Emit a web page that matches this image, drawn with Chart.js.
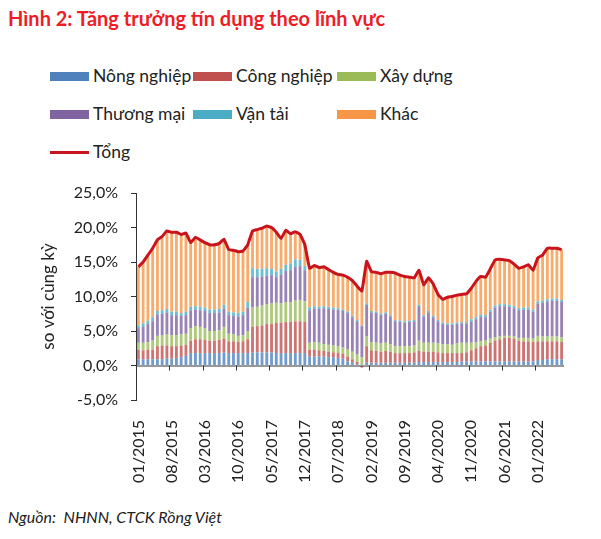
<!DOCTYPE html>
<html>
<head>
<meta charset="utf-8">
<script src="https://cdn.jsdelivr.net/npm/chart.js@4.4.1/dist/chart.umd.min.js"></script>
<style>
  body { margin: 0; background: #fff; width: 601px; height: 539px; position: relative; overflow: hidden; font-family: Lato, "Noto Sans", sans-serif; color: #222; }
  #title { position: absolute; left: 8px; top: 6px; font-size: 20px; font-weight: bold; color: #ee1c25; white-space: nowrap; }
  #legend { position: absolute; left: 0; top: 0; }
  .item { position: absolute; font-size: 17.5px; white-space: nowrap; line-height: 20px; }
  .sw { position: absolute; width: 39px; }
  #chartBox { position: absolute; left: 0; top: 168px; width: 601px; height: 322px; }
  #source { position: absolute; left: 8px; top: 507px; font-size: 16px; font-style: italic; white-space: nowrap; }
</style>
</head>
<body>
<div id="title">Hình 2: Tăng trưởng tín dụng theo lĩnh vực</div>
<div id="legend"></div>
<div id="chartBox"><canvas id="creditChart"></canvas></div>
<div id="source">Nguồn:&nbsp; NHNN, CTCK Rồng Việt</div>
<script>
// months 01/2015 .. 06/2022
const months = [];
for (let y = 2015; y <= 2022; y++) {
  for (let m = 1; m <= 12; m++) {
    if (y === 2022 && m > 6) break;
    months.push(String(m).padStart(2, "0") + "/" + y);
  }
}

const yTicks = [-5, 0, 5, 10, 15, 20, 25];

// % so với cùng kỳ
const nongNghiep = [0.9,0.9,0.9,0.9,0.9,0.9,1.0,1.0,1.1,1.2,1.4,1.8,1.8,1.8,1.8,1.8,1.8,1.8,1.9,1.8,
  1.8,1.8,1.8,1.8,1.9,1.9,1.9,1.9,1.9,1.8,1.8,1.8,1.8,1.8,1.8,1.8,1.3,1.3,1.3,1.3,
  1.2,1.2,1.1,1.0,0.6,0.4,0.2,0.1,0.4,0.4,0.4,0.4,0.4,0.4,0.4,0.4,0.4,0.4,0.4,0.5,
  0.5,0.5,0.5,0.5,0.5,0.5,0.5,0.5,0.6,0.6,0.6,0.6,0.6,0.6,0.6,0.6,0.6,0.6,0.6,0.6,
  0.6,0.6,0.6,0.6,0.8,0.8,0.9,0.9,0.9,0.9];
const congNghiep = [1.4,1.3,1.4,1.4,1.9,2.0,1.9,1.8,1.7,1.7,1.6,1.8,2.0,2.0,1.9,1.8,1.8,1.9,2.0,1.7,
  1.7,1.6,1.7,2.0,3.7,3.8,3.9,4.1,4.1,4.4,4.4,4.5,4.5,4.6,4.6,4.5,1.0,1.0,0.9,0.8,
  0.8,0.7,0.7,0.7,0.7,0.5,0.3,-0.3,2.4,1.8,1.7,1.6,1.7,1.6,1.4,1.4,1.4,1.4,1.5,1.6,
  1.5,1.5,1.5,1.4,1.3,1.3,1.3,1.3,1.2,1.3,1.6,1.9,2.2,2.3,2.7,3.0,3.2,3.4,3.4,3.3,
  3.0,2.9,2.9,2.8,2.7,2.7,2.6,2.6,2.6,2.5];
const xayDung = [1.0,1.1,1.1,1.3,1.5,1.5,1.6,1.6,1.6,1.6,1.6,1.8,1.9,1.8,1.7,1.4,1.4,1.4,1.7,1.1,
  1.0,0.9,0.9,1.2,2.8,2.8,2.9,2.9,3.0,2.9,2.8,2.9,2.9,3.0,3.1,3.0,1.0,1.1,1.1,1.0,
  1.0,1.0,1.0,0.9,1.0,1.1,1.1,1.1,1.4,1.2,1.2,1.2,1.2,1.1,1.0,1.0,1.0,1.0,1.0,1.5,
  1.3,1.3,1.3,1.3,1.3,1.3,1.2,1.4,1.5,1.4,1.1,0.9,0.7,0.7,0.6,0.5,0.4,0.3,0.3,0.3,
  0.4,0.5,0.5,0.5,0.8,0.7,0.7,0.7,0.7,0.7];
const thuongMai = [2.1,2.3,2.6,2.8,3.1,3.1,3.2,2.9,2.9,2.7,2.7,2.6,2.4,2.4,2.5,2.6,2.6,2.6,2.6,2.7,
  2.7,2.8,2.9,3.4,4.4,4.3,4.2,4.1,4.1,3.7,4.2,4.5,4.6,4.9,4.9,4.5,4.7,4.8,4.9,5.2,
  5.2,5.2,5.3,5.3,5.3,5.0,4.8,4.5,4.6,4.3,4.3,4.1,4.2,4.0,3.6,3.5,3.4,3.5,3.5,5.0,
  3.8,4.4,3.7,3.2,2.9,2.8,2.9,2.8,2.8,2.8,3.1,3.3,3.6,3.4,3.9,4.3,4.4,4.3,4.2,4.1,
  4.0,4.1,4.1,3.9,4.7,4.9,5.1,5.2,5.2,5.1];
const vanTai = [0.4,0.5,0.5,0.6,0.5,0.5,0.5,0.5,0.5,0.4,0.5,0.5,0.5,0.5,0.5,0.5,0.5,0.5,0.6,0.5,
  0.5,0.5,0.5,0.8,1.3,1.2,1.1,1.1,0.9,0.8,0.8,0.9,1.0,1.1,0.9,0.6,0.4,0.4,0.3,0.3,
  0.3,0.3,0.2,0.2,0.2,0.2,0.2,0.1,0.2,0.2,0.2,0.2,0.2,0.2,0.2,0.2,0.2,0.2,0.2,0.2,
  0.2,0.2,0.2,0.2,0.2,0.2,0.2,0.2,0.2,0.2,0.3,0.3,0.3,0.3,0.3,0.3,0.3,0.3,0.3,0.3,
  0.3,0.3,0.3,0.3,0.3,0.3,0.3,0.3,0.3,0.3];
const khac = [8.5,8.9,9.5,10.0,10.3,10.7,11.3,11.5,11.5,11.4,11.4,9.3,10.0,9.7,9.4,9.4,9.4,9.5,9.5,9.0,
  9.0,8.9,8.8,8.3,5.4,5.7,5.9,6.1,6.0,5.7,4.4,5.0,4.3,4.0,3.7,3.1,5.7,5.9,5.7,5.7,
  5.4,5.1,4.9,5.0,5.0,5.1,4.9,5.0,6.1,5.7,5.7,5.8,5.8,6.2,6.8,6.6,6.5,6.3,6.1,5.0,
  4.4,4.8,4.6,3.7,3.4,3.8,3.9,4.0,4.0,4.1,4.5,5.2,5.5,5.5,5.9,6.6,6.5,6.4,6.4,6.1,
  5.8,5.9,6.2,5.7,6.3,6.6,7.4,7.3,7.3,7.3];
const tong = [14.3,15.0,16.0,17.0,18.2,18.7,19.5,19.3,19.3,19.0,19.2,17.8,18.6,18.2,17.8,17.5,17.5,17.7,18.3,16.8,
  16.7,16.5,16.6,17.5,19.5,19.7,19.9,20.2,20.0,19.3,18.4,19.6,19.1,19.4,19.0,17.5,14.1,14.5,14.2,14.3,
  13.9,13.5,13.2,13.1,12.8,12.3,11.5,10.8,15.1,13.6,13.5,13.3,13.5,13.5,13.4,13.1,12.9,12.8,12.7,13.8,
  11.7,12.7,11.8,10.3,9.6,9.9,10.0,10.2,10.3,10.4,11.2,12.2,12.9,12.8,14.0,15.3,15.4,15.3,15.2,14.7,
  14.1,14.3,14.6,13.8,15.6,16.0,17.0,17.0,17.0,16.8];

const sectors = [
  { label: "Nông nghiệp", data: nongNghiep, color: "#4f81bd", bar: "rgba(79,129,189,0.8)" },
  { label: "Công nghiệp", data: congNghiep, color: "#c0504d", bar: "rgba(192,80,77,0.8)" },
  { label: "Xây dựng", data: xayDung, color: "#9bbb59", bar: "rgba(155,187,89,0.8)" },
  { label: "Thương mại", data: thuongMai, color: "#8064a2", bar: "rgba(128,100,162,0.8)" },
  { label: "Vận tải", data: vanTai, color: "#4bacc6", bar: "rgba(75,172,198,0.8)" },
  { label: "Khác", data: khac, color: "#f79646", bar: "rgba(247,150,70,0.8)" },
];
const lineColor = "#c8141c";

const datasets = sectors.map((s) => ({
  type: "bar",
  label: s.label,
  data: s.data,
  backgroundColor: s.bar,
  legendColor: s.color,
  stack: "sectors",
  order: 1,
  barPercentage: 0.6,
  categoryPercentage: 1,
}));
datasets.push({
  type: "line",
  label: "Tổng",
  data: tong,
  borderColor: lineColor,
  borderWidth: 3,
  pointRadius: 0,
  tension: 0.1,
  stack: "total",
  order: 0,
});

// tick marks on the zero line, every 7 months
const zeroTicks = {
  id: "zeroTicks",
  afterDatasetsDraw(chart) {
    const x = chart.scales.x, y = chart.scales.y;
    const y0 = y.getPixelForValue(0);
    const half = (x.getPixelForValue(1) - x.getPixelForValue(0)) / 2;
    const ctx = chart.ctx;
    ctx.save();
    ctx.strokeStyle = "#333";
    ctx.lineWidth = 1;
    ctx.beginPath();
    ctx.moveTo(x.left, y0 + 0.5);
    ctx.lineTo(x.right, y0 + 0.5);
    for (let i = 7; i < months.length; i += 7) {
      const px = Math.round(x.getPixelForValue(i) - half) + 0.5;
      ctx.moveTo(px, y0);
      ctx.lineTo(px, y0 + 5);
    }
    ctx.stroke();
    ctx.restore();
  },
};

const font = "Lato, 'Noto Sans', sans-serif";
const ctx = document.getElementById("creditChart").getContext("2d");
const creditChart = new Chart(ctx, {
  data: { labels: months, datasets: datasets },
  options: {
    responsive: true,
    maintainAspectRatio: false,
    animation: false,
    layout: { padding: { top: 25, left: 38, right: 37, bottom: 0 } },
    plugins: { legend: { display: false }, tooltip: { enabled: false } },
    scales: {
      x: {
        stacked: true,
        grid: { display: false },
        border: { display: false },
        afterFit: (s) => { s.height = 90; },
        ticks: {
          autoSkip: false,
          minRotation: 90,
          maxRotation: 90,
          padding: 12,
          color: "#222",
          font: { family: font, size: 16 },
          callback: (v, i) => (i % 7 === 0 ? months[i] : ""),
        },
      },
      y: {
        stacked: true,
        min: yTicks[0],
        max: yTicks[yTicks.length - 1],
        afterFit: (s) => { s.width = 98; },
        afterBuildTicks: (s) => { s.ticks = yTicks.map((v) => ({ value: v })); },
        border: { display: true, color: "#333" },
        grid: { drawOnChartArea: false, tickLength: 5, color: "#333" },
        ticks: {
          padding: 13,
          color: "#222",
          font: { family: font, size: 16 },
          callback: (v) => v.toFixed(1).replace(".", ",") + "%",
        },
        title: {
          display: true,
          text: "so với cùng kỳ",
          color: "#222",
          padding: 0,
          font: { family: font, size: 17 },
        },
      },
    },
  },
  plugins: [zeroTicks],
});

// legend laid out in three columns like the original
const legend = document.getElementById("legend");
const colX = [50, 193, 337];
const rowY = [76, 114, 152];
creditChart.data.datasets.forEach((d, i) => {
  const item = document.createElement("div");
  item.className = "item";
  item.style.left = colX[i % 3] + "px";
  item.style.top = rowY[Math.floor(i / 3)] - 10 + "px";
  const sw = document.createElement("span");
  sw.className = "sw";
  if (d.type === "line") {
    sw.style.height = "3px";
    sw.style.top = "9px";
    sw.style.background = d.borderColor;
  } else {
    sw.style.height = "9px";
    sw.style.top = "6px";
    sw.style.background = d.legendColor;
  }
  const txt = document.createElement("span");
  txt.style.marginLeft = "43px";
  txt.textContent = d.label;
  item.appendChild(sw);
  item.appendChild(txt);
  legend.appendChild(item);
});
</script>
</body>
</html>
